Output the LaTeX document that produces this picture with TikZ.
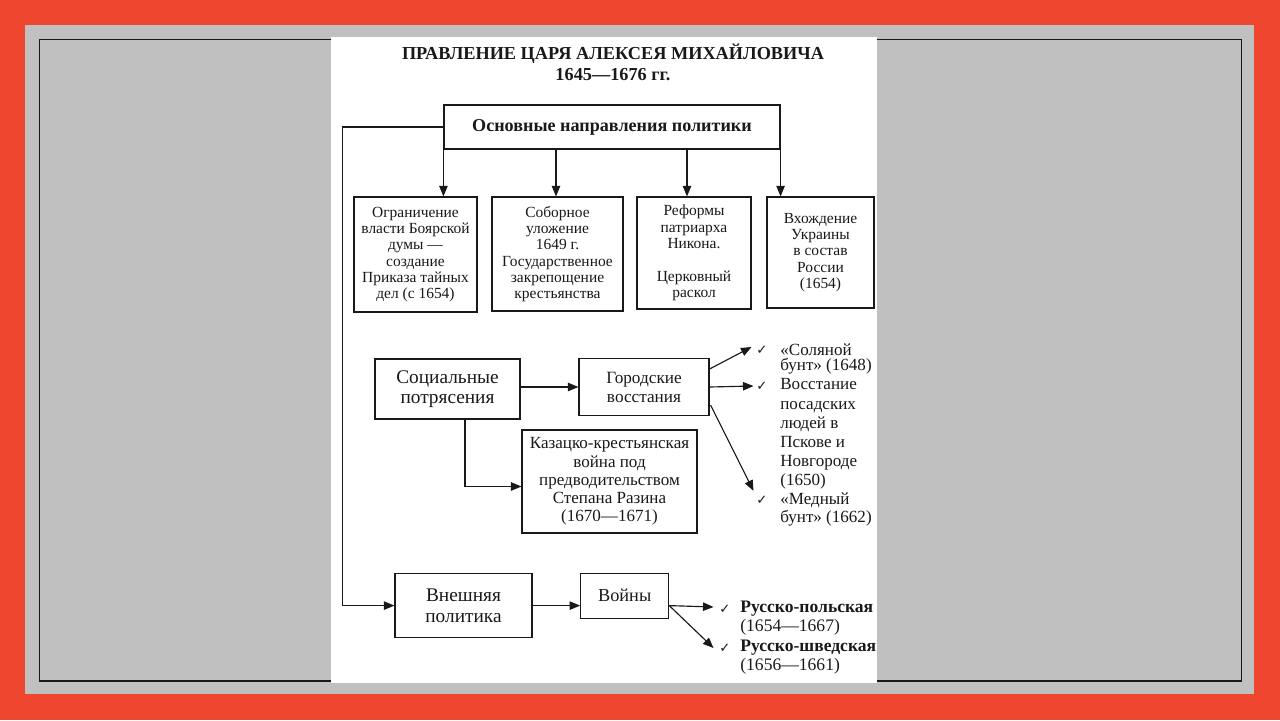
\documentclass[tikz,border=0pt]{standalone}
\usepackage{fontspec}
\setmainfont{Liberation Serif}
\newfontfamily\symfont{DejaVu Sans}
\usetikzlibrary{arrows.meta,positioning,calc}
\newlength{\unitpx}
\setlength{\unitpx}{0.02cm}
\definecolor{frame}{RGB}{239,71,47}
\definecolor{slide}{RGB}{192,192,192}
\definecolor{ink}{RGB}{25,25,25}

\begin{document}
\begin{tikzpicture}[
    x=0.02cm, y=-0.02cm,
    box/.style={draw=ink, rectangle, line width=0.65pt, align=center, inner sep=0pt, text=ink},
    arr/.style={-{Triangle[length=6pt,width=4.8pt]}, line width=0.65pt, draw=ink},
    tick/.style={inner sep=1.5pt, text=ink, font=\symfont\fontsize{7.5}{7.5}\selectfont},
    item/.style={anchor=west, align=left, inner sep=0pt, text=ink}
]
    \useasboundingbox (0,0) rectangle (1280,720);

    % Slide frame and scanned page
    \fill[frame] (0,0) rectangle (1280,720);
    \fill[slide] (25,25) rectangle (1254,694);
    \draw[ink, line width=0.8pt] (39.5,39.5) rectangle (1241.5,681);
    \fill[white] (331,37) rectangle (877,683);

    \begin{scope}
    \clip (331,37) rectangle (877,683);

    % Title
    \node[align=center, text=ink, font=\bfseries\fontsize{10.4}{11.9}\selectfont] (title) at (613,62)
        {ПРАВЛЕНИЕ ЦАРЯ АЛЕКСЕЯ МИХАЙЛОВИЧА\\1645---1676 гг.};

    % Main directions
    \node[box, minimum width=336\unitpx, minimum height=44\unitpx, font=\bfseries\fontsize{10.3}{12}\selectfont] (main) at (612,127)
        {Основные направления политики};

    % Row of policy boxes
    \node[box, minimum width=123\unitpx, minimum height=115\unitpx, font=\fontsize{8.8}{9.3}\selectfont] (b1) at (415.5,254.5)
        {Ограничение\\власти Боярской\\думы ---\\создание\\Приказа тайных\\дел (с 1654)};
    \node[box, minimum width=131\unitpx, minimum height=114\unitpx, font=\fontsize{8.8}{9.3}\selectfont] (b2) at (557.5,254)
        {Соборное\\уложение\\1649 г.\\Государственное\\закрепощение\\крестьянства};
    \node[box, minimum width=114\unitpx, minimum height=112\unitpx, font=\fontsize{8.8}{9.3}\selectfont] (b3) at (694,253)
        {Реформы\\патриарха\\Никона.\\[9.3pt]Церковный\\раскол};
    \node[box, minimum width=107\unitpx, minimum height=111\unitpx, font=\fontsize{8.8}{9.3}\selectfont] (b4) at (820.5,252.5)
        {Вхождение\\Украины\\в состав\\России\\(1654)};

    \draw[arr] (main.south west) -- (main.south west |- b1.north);
    \draw[arr] ($(main.south)+(-56,0)$) coordinate (d2) -- (d2 |- b2.north);
    \draw[arr] ($(main.south)+(75,0)$) coordinate (d3) -- (d3 |- b3.north);
    \draw[arr] (main.south east) -- (main.south east |- b4.north);

    % Social unrest
    \node[box, minimum width=145\unitpx, minimum height=60\unitpx, font=\fontsize{11}{11.3}\selectfont] (soc) at (447.5,389)
        {Социальные\\потрясения};
    \node[box, minimum width=130\unitpx, minimum height=57\unitpx, font=\fontsize{9.8}{10.8}\selectfont] (gor) at (644,387)
        {Городские\\восстания};
    \node[box, minimum width=175\unitpx, minimum height=103\unitpx, font=\fontsize{9.7}{10.4}\selectfont] (kaz) at (609.5,481.5)
        {Казацко-крестьянская\\война под\\предводительством\\Степана Разина\\(1670---1671)};

    \draw[arr] (gor.west -| soc.east) -- (gor.west);
    \draw[arr] ($(soc.south)+(17.5,0)$) |- ($(kaz.west)+(0,5)$);

    % Town uprisings
    \node[tick] (ck1) at (762,350) {✓};
    \node[tick] (ck2) at (762,386) {✓};
    \node[tick] (ck3) at (762,500) {✓};
    \node[item, font=\fontsize{9.7}{8.8}\selectfont] (it1) at (780,359) {«Соляной\\бунт» (1648)};
    \node[item, font=\fontsize{9.7}{10.9}\selectfont] (it2) at (780,434) {Восстание\\посадских\\людей в\\Пскове и\\Новгороде\\(1650)};
    \node[item, font=\fontsize{9.7}{10.3}\selectfont] (it3) at (780,509.5) {«Медный\\бунт» (1662)};

    \draw[arr] ($(gor.east)+(0,-18)$) -- ($(ck1.west)+(-2,-3)$);
    \draw[arr] (gor.east) -- (ck2.west);
    \draw[arr] ($(gor.east)+(1,18)$) -- ($(ck3.north west)+(0,-2)$);

    % Foreign policy
    \node[box, minimum width=137\unitpx, minimum height=64\unitpx, font=\fontsize{11}{12}\selectfont] (ext) at (463.5,605.6)
        {Внешняя\\политика};
    \node[box, minimum width=88\unitpx, minimum height=45\unitpx, font=\fontsize{10.4}{12}\selectfont] (war) at (624.7,595.7)
        {Войны};

    \draw[arr] (main.west) -- ++(-101,0) |- (ext.west);
    \draw[arr] (ext.east) -- (ext.east -| war.west);

    % Wars
    \node[tick] (ck4) at (725,609) {✓};
    \node[tick] (ck5) at (725,648) {✓};
    \node[item, font=\fontsize{10}{11}\selectfont] (it4) at (740,618) {\textbf{Русско-польская}\\(1654---1667)};
    \node[item, font=\fontsize{10}{11}\selectfont] (it5) at (740,657) {\textbf{Русско-шведская}\\(1656---1661)};

    \draw[arr] (ext.east -| war.east) -- ($(ck4.west)+(-3,-2)$);
    \draw[arr] (ext.east -| war.east) -- ($(ck5.west)+(-3,0)$);
    \end{scope}

\end{tikzpicture}
\end{document}
